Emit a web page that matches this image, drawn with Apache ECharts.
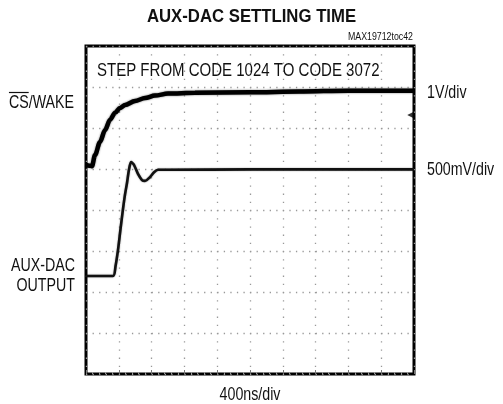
<!DOCTYPE html>
<html>
<head>
<meta charset="utf-8">
<script src="https://cdn.jsdelivr.net/npm/echarts@6/dist/echarts.min.js"></script>
<style>
  html, body { margin: 0; padding: 0; background: #fff; }
  #chart { width: 503px; height: 404px; }
</style>
</head>
<body>
<div id="chart"></div>
<script>
// Oscilloscope capture: time in ns (400 ns/div), vertical position in screen divisions (8 div tall)
const csTimeNs = [0, 40, 73, 110, 171, 232, 293, 354, 415, 476, 598, 720, 841, 1000, 1329, 2000, 2600, 3200, 4000];
const csWakeDiv = [5.10, 5.08, 5.07, 5.34, 5.66, 5.95, 6.20, 6.37, 6.49, 6.56, 6.66, 6.73, 6.79, 6.84, 6.86, 6.87, 6.89, 6.91, 6.91];

const auxTimeNs = [0, 329, 360, 390, 420, 451, 476, 500, 524, 549, 585, 634, 683, 720, 780, 830, 878, 1024, 2000, 3000, 4000];
const auxDacDiv = [2.39, 2.39, 2.63, 3.02, 3.52, 4.02, 4.38, 4.66, 4.98, 5.17, 5.10, 4.88, 4.73, 4.71, 4.80, 4.92, 4.98, 4.98, 4.99, 4.99, 4.99];

// trigger-level marker on the right edge
const triggerMarker = [[3960, 6.32]];

const timeMin = 0, timeMax = 4000, timeDiv = 400;
const divMin = 0, divMax = 8, divStep = 1;

const FONT = "'Liberation Sans', Arial, sans-serif";
const SQUEEZE = 0.79;   // horizontal squeeze to get a condensed face

const pairs = (xs, ys) => xs.map((x, i) => [x, ys[i]]);

// condensed text label anchored at (x, y)
function label(text, x, y, align, size, extra) {
  return Object.assign({
    type: 'text', x: x, y: y, scaleX: SQUEEZE, z: 10,
    style: { text: text, x: 0, y: 0, align: align, verticalAlign: 'middle',
             fontFamily: FONT, fontSize: size, fill: '#111' }
  }, extra || {});
}

// width of text after squeezing, used for the overbar on "CS"
function textWidth(text, size, weight) {
  const ctx = document.createElement('canvas').getContext('2d');
  ctx.font = (weight || 'normal') + ' ' + size + 'px ' + FONT;
  return ctx.measureText(text).width * SQUEEZE;
}

const csRight = 74, csY = 103;
const csFull = textWidth('CS/WAKE', 18);
const csBar = textWidth('CS', 18);
const csLeft = csRight - csFull;

const title = label('AUX-DAC SETTLING TIME', 251.5, 17, 'center', 18);
title.scaleX = 0.93;
title.style.fontWeight = 'bold';

const chart = echarts.init(document.getElementById('chart'), null, { renderer: 'canvas' });

chart.setOption({
  backgroundColor: '#fff',
  animation: false,
  grid: {
    left: 86, top: 46, width: 328, height: 328,
    show: true, borderColor: '#000', borderWidth: 3, backgroundColor: '#fff'
  },
  xAxis: {
    type: 'value', min: timeMin, max: timeMax, interval: timeDiv,
    axisLine: { show: false },
    axisLabel: { show: false },
    axisTick: { show: true, inside: true, length: 4, lineStyle: { color: '#777' } },
    minorTick: { show: true, splitNumber: 5, length: 2, lineStyle: { color: '#999' } },
    splitLine: { show: true, lineStyle: { color: '#999', width: 1.3, type: [1.3, 6.9] } }
  },
  yAxis: {
    type: 'value', min: divMin, max: divMax, interval: divStep,
    axisLine: { show: false },
    axisLabel: { show: false },
    axisTick: { show: false },
    splitLine: { show: true, lineStyle: { color: '#999', width: 1.3, type: [1.3, 5.26] } }
  },
  series: [
    {
      name: 'CS/WAKE', type: 'line', data: pairs(csTimeNs, csWakeDiv),
      showSymbol: false, smooth: 0.3, smoothMonotone: 'x',
      lineStyle: { color: '#000', width: 4.5, shadowBlur: 2, shadowColor: 'rgba(0,0,0,0.6)' }, z: 3
    },
    {
      name: 'AUX-DAC OUTPUT', type: 'line', data: pairs(auxTimeNs, auxDacDiv),
      showSymbol: false, smooth: 0.25,
      lineStyle: { color: '#111', width: 2.6, shadowBlur: 1.5, shadowColor: 'rgba(0,0,0,0.5)' }, z: 3
    },
    {
      name: 'trigger', type: 'scatter', data: triggerMarker,
      symbol: 'triangle', symbolSize: [7, 7], symbolRotate: 90,
      itemStyle: { color: '#000' }, z: 4
    }
  ],
  graphic: [
    title,
    label('MAX19712toc42', 413, 37, 'right', 10, { scaleX: 0.88 }),
    label('STEP FROM CODE 1024 TO CODE 3072', 97, 70.5, 'left', 19),
    label('CS/WAKE', csRight, csY, 'right', 18),
    { type: 'line', z: 10, shape: { x1: csLeft, y1: 92.5, x2: csLeft + csBar, y2: 92.5 }, style: { stroke: '#111', lineWidth: 1.2 } },
    label('AUX-DAC', 75, 266, 'right', 18),
    label('OUTPUT', 75, 286, 'right', 18),
    label('1V/div', 427, 93.5, 'left', 18),
    label('500mV/div', 427, 170, 'left', 18),
    label('400ns/div', 250, 395, 'center', 18)
  ]
});
</script>
</body>
</html>
